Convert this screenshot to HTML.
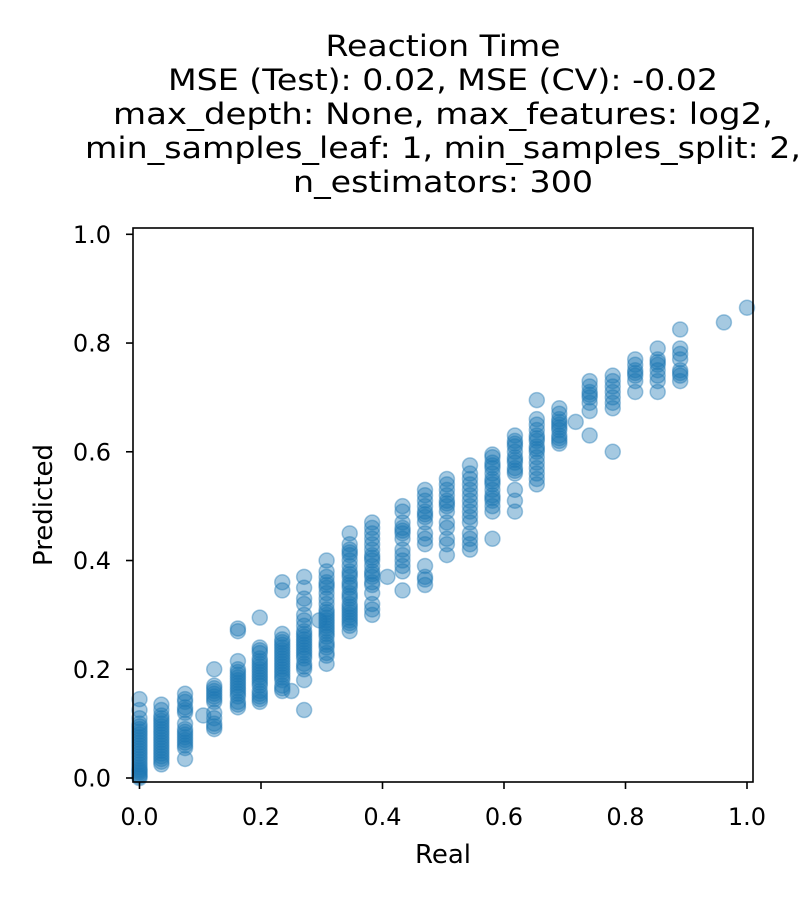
<!DOCTYPE html>
<html><head><meta charset="utf-8"><style>
html,body{margin:0;padding:0;background:#fff;}
text{font-family:"DejaVu Sans","Liberation Sans",sans-serif;fill:#000;}
</style></head><body>
<svg id="chart" width="800" height="900" xmlns="http://www.w3.org/2000/svg">
<g font-size="29" text-anchor="middle">
<text x="443" y="56" textLength="235" lengthAdjust="spacingAndGlyphs">Reaction Time</text>
<text x="443" y="90" textLength="550" lengthAdjust="spacingAndGlyphs">MSE (Test): 0.02, MSE (CV): -0.02</text>
<text x="443" y="124" textLength="660" lengthAdjust="spacingAndGlyphs">max_depth: None, max_features: log2,</text>
<text x="443" y="158" textLength="716" lengthAdjust="spacingAndGlyphs">min_samples_leaf: 1, min_samples_split: 2,</text>
<text x="443" y="192" textLength="300" lengthAdjust="spacingAndGlyphs">n_estimators: 300</text>
</g>
<g id="points"></g>
<rect x="133" y="228" width="620" height="554" fill="none" stroke="#000" stroke-width="1.6"/>
<g id="xticks"></g>
<g id="yticks"></g>
<text x="443" y="863" font-size="26" text-anchor="middle">Real</text>
<text x="52" y="505" font-size="26" text-anchor="middle" transform="rotate(-90 52 505)">Predicted</text>
</svg>
<script>
const colX = [0,0.036,0.075,0.105,0.123,0.162,0.198,0.235,0.25,0.271,0.296,0.308,0.346,0.383,0.408,0.433,0.47,0.506,0.544,0.581,0.618,0.654,0.691,0.718,0.741,0.779,0.816,0.853,0.89,0.962,1.0];
const colY = [
[0,0.003,0.006,0.01,0.013,0.016,0.02,0.025,0.03,0.035,0.04,0.045,0.05,0.055,0.06,0.065,0.07,0.075,0.08,0.085,0.09,0.095,0.1,0.11,0.125,0.145],
[0.025,0.03,0.035,0.04,0.045,0.05,0.055,0.06,0.065,0.07,0.075,0.08,0.085,0.09,0.095,0.1,0.105,0.11,0.115,0.125,0.135],
[0.035,0.055,0.06,0.065,0.07,0.075,0.08,0.085,0.09,0.1,0.12,0.125,0.13,0.14,0.145,0.155],
[0.115],
[0.09,0.095,0.1,0.11,0.12,0.14,0.145,0.15,0.155,0.16,0.165,0.17,0.2],
[0.13,0.135,0.14,0.15,0.155,0.16,0.165,0.17,0.175,0.18,0.185,0.19,0.195,0.2,0.215,0.27,0.275],
[0.14,0.145,0.15,0.155,0.16,0.17,0.175,0.18,0.185,0.19,0.195,0.2,0.205,0.21,0.215,0.22,0.23,0.235,0.24,0.295],
[0.16,0.165,0.17,0.18,0.185,0.19,0.195,0.2,0.205,0.21,0.215,0.22,0.225,0.23,0.235,0.24,0.245,0.25,0.255,0.265,0.345,0.36],
[0.16],
[0.125,0.18,0.2,0.205,0.21,0.22,0.225,0.23,0.235,0.24,0.245,0.25,0.255,0.26,0.265,0.27,0.28,0.29,0.3,0.32,0.33,0.35,0.37],
[0.29],
[0.21,0.225,0.23,0.24,0.245,0.25,0.26,0.265,0.27,0.275,0.28,0.285,0.29,0.295,0.3,0.305,0.31,0.32,0.33,0.34,0.35,0.355,0.36,0.37,0.38,0.4],
[0.27,0.28,0.285,0.29,0.295,0.3,0.305,0.31,0.315,0.32,0.33,0.335,0.34,0.35,0.355,0.36,0.37,0.375,0.38,0.39,0.4,0.41,0.415,0.42,0.43,0.45],
[0.3,0.31,0.32,0.34,0.355,0.36,0.37,0.375,0.38,0.39,0.4,0.405,0.41,0.42,0.43,0.44,0.45,0.46,0.47],
[0.37],
[0.345,0.38,0.39,0.4,0.41,0.42,0.44,0.45,0.455,0.46,0.47,0.49,0.5],
[0.355,0.365,0.37,0.39,0.43,0.44,0.45,0.47,0.48,0.485,0.49,0.5,0.51,0.52,0.53],
[0.41,0.43,0.44,0.46,0.47,0.49,0.5,0.505,0.51,0.52,0.53,0.54,0.55],
[0.42,0.43,0.44,0.45,0.47,0.48,0.49,0.5,0.51,0.52,0.53,0.54,0.55,0.56,0.575],
[0.44,0.49,0.5,0.51,0.515,0.52,0.53,0.54,0.545,0.55,0.56,0.57,0.575,0.58,0.59,0.595],
[0.49,0.51,0.53,0.56,0.565,0.57,0.58,0.585,0.59,0.6,0.61,0.615,0.62,0.63],
[0.54,0.55,0.56,0.57,0.58,0.59,0.6,0.605,0.61,0.62,0.625,0.63,0.64,0.65,0.66,0.695],
[0.615,0.62,0.625,0.63,0.64,0.645,0.65,0.655,0.66,0.67,0.68],
[0.655],
[0.63,0.675,0.69,0.7,0.705,0.71,0.72,0.73],
[0.6,0.68,0.69,0.7,0.71,0.72,0.73,0.74],
[0.71,0.73,0.74,0.745,0.75,0.76,0.77],
[0.71,0.73,0.74,0.75,0.76,0.765,0.77,0.79],
[0.73,0.74,0.745,0.75,0.77,0.78,0.79,0.825],
[0.838],
[0.865]
];
const xTickLabels = ["0.0","0.2","0.4","0.6","0.8","1.0"];
const yTickLabels = ["0.0","0.2","0.4","0.6","0.8","1.0"];
const NS="http://www.w3.org/2000/svg";
function sx(v){return 139.5+v*607.5;}
function sy(v){return 778-v*543.7;}
const pts=document.getElementById('points');
colX.forEach((x,i)=>{colY[i].forEach(y=>{
  const c=document.createElementNS(NS,'circle');
  c.setAttribute('cx',sx(x));c.setAttribute('cy',sy(y));c.setAttribute('r',7.5);
  c.setAttribute('fill','rgba(31,119,180,0.4)');c.setAttribute('stroke','rgba(31,119,180,0.4)');c.setAttribute('stroke-width','1.5');
  
  
  pts.appendChild(c);
});});
const xg=document.getElementById('xticks');
xTickLabels.forEach(l=>{
  const v=parseFloat(l),x=sx(v);
  const t=document.createElementNS(NS,'line');
  t.setAttribute('x1',x);t.setAttribute('x2',x);t.setAttribute('y1',782);t.setAttribute('y2',789);t.setAttribute('stroke','#000');t.setAttribute('stroke-width','1.6');
  
  
  xg.appendChild(t);
  const tx=document.createElementNS(NS,'text');
  tx.setAttribute('x',x);tx.setAttribute('y',825);tx.setAttribute('font-size','24');tx.setAttribute('text-anchor','middle');tx.textContent=l;
  
  
  xg.appendChild(tx);
});
const yg=document.getElementById('yticks');
yTickLabels.forEach(l=>{
  const v=parseFloat(l),y=sy(v);
  const t=document.createElementNS(NS,'line');
  t.setAttribute('x1',126);t.setAttribute('x2',133);t.setAttribute('y1',y);t.setAttribute('y2',y);t.setAttribute('stroke','#000');t.setAttribute('stroke-width','1.6');
  
  
  yg.appendChild(t);
  const tx=document.createElementNS(NS,'text');
  tx.setAttribute('x',111);tx.setAttribute('y',y+8.5);tx.setAttribute('font-size','24');tx.setAttribute('text-anchor','end');tx.textContent=l;
  
  
  yg.appendChild(tx);
});
</script>
</body></html>
